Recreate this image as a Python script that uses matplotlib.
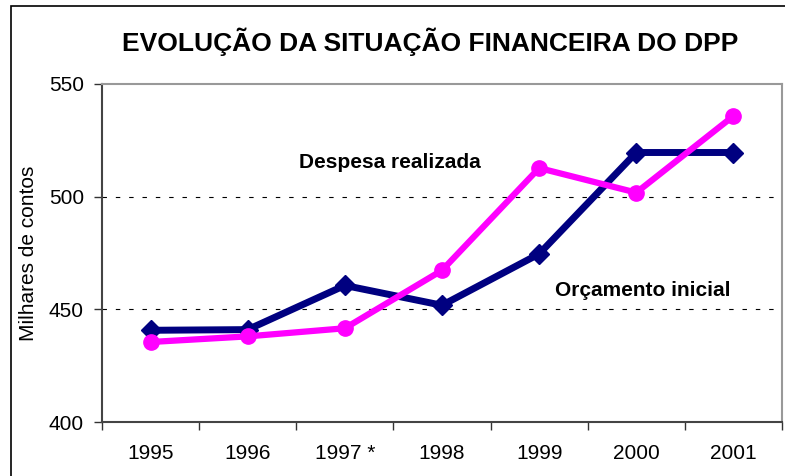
import matplotlib
matplotlib.use("Agg")
import matplotlib.pyplot as plt
from matplotlib.patches import Rectangle

plt.rcParams['font.family'] = ['Liberation Sans', 'DejaVu Sans']

years = ["1995", "1996", "1997 *", "1998", "1999", "2000", "2001"]
orcamento_inicial = [440.7, 441.0, 460.6, 451.8, 474.6, 519.6, 519.6]
despesa_realizada = [435.5, 438.0, 441.6, 467.3, 512.7, 501.8, 535.8]
yticks = [400, 450, 500, 550]

fig = plt.figure(figsize=(7.85, 4.76), dpi=100)
ax = fig.add_axes([102/785, 1-422/476, (782-102)/785, (422-84)/476])

x = list(range(len(years)))
ax.plot(x, orcamento_inicial, color='#000080', lw=5, marker='D', ms=10,
        mec='#000080', mfc='#000080', zorder=3, solid_joinstyle='miter')
ax.plot(x, despesa_realizada, color='#FF00FF', lw=4.5, marker='o', ms=11,
        mec='#FF00FF', mfc='#FF00FF', zorder=4)

ax.set_xlim(-0.5, len(years) - 0.5)
ax.set_ylim(400, 550)
ax.set_yticks(yticks)
ax.set_yticklabels([str(v) for v in yticks], fontsize=15)
ax.set_xticks([i for i in x])
ax.set_xticklabels(years, fontsize=15)
ax.set_xticks([i - 0.5 for i in range(len(years) + 1)], minor=True)
ax.tick_params(axis='x', which='major', length=0, pad=16)
ax.tick_params(axis='x', which='minor', length=6, width=1, color='#333333', direction='out')
ax.tick_params(axis='y', length=6, width=1, color='#333333', direction='out', pad=7)

for v in [450, 500]:
    ax.axhline(v, color='black', lw=0.8, ls=(0, (4, 8)), zorder=1)

for side in ['left', 'bottom']:
    ax.spines[side].set_color('#444444')
    ax.spines[side].set_linewidth(1.5)
for side in ['top', 'right']:
    ax.spines[side].set_color('#999999')
    ax.spines[side].set_linewidth(1.5)

ax.set_ylabel("Milhares de contos", fontsize=15)
ax.yaxis.set_label_coords(-0.094, 0.5)

ax.text(2.46, 515, "Despesa realizada", fontsize=15, fontweight='bold', ha='center', va='center')
ax.text(5.07, 458.4, "Orçamento inicial", fontsize=15, fontweight='bold', ha='center', va='center')

fig.text(430/785, 1-42/476, "EVOLUÇÃO DA SITUAÇÃO FINANCEIRA DO DPP", fontsize=19,
         fontweight='bold', ha='center', va='center')

fig.patches.append(Rectangle((11/785, -0.1), 1.1, 1 - 6/476 + 0.1, transform=fig.transFigure,
                             fill=False, edgecolor='black', lw=1.2))

fig.savefig("out.png", dpi=100)
